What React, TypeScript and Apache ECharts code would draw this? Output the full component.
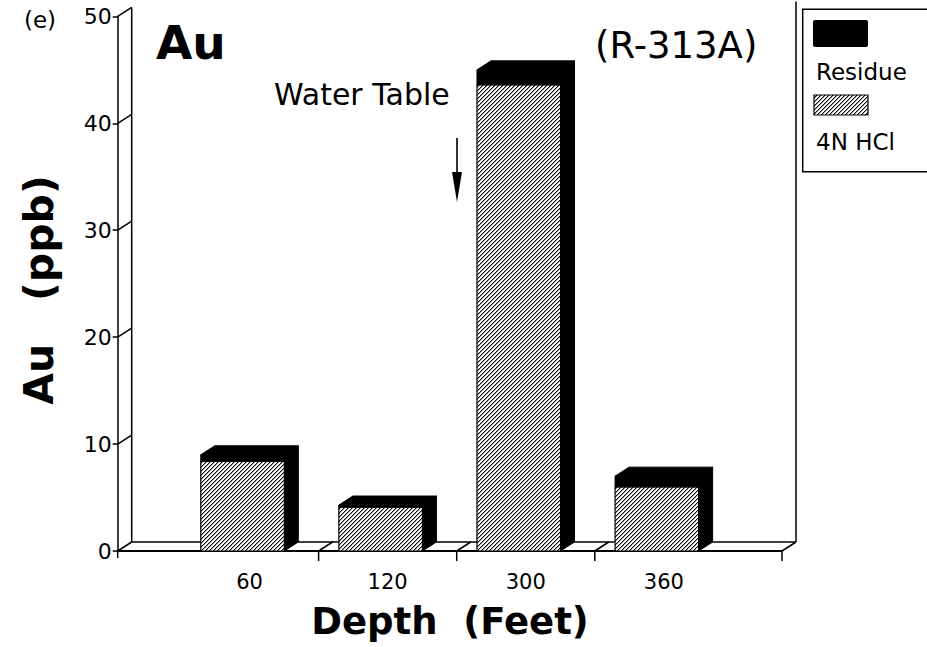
import React, { useEffect, useRef } from "react";
import * as echarts from "echarts";

const depths = ["60", "120", "300", "360"];
const hclValues = [8.4, 4.1, 43.6, 6.0];
const residueValues = [0.6, 0.2, 1.4, 1.0];
const yTicks = [0, 10, 20, 30, 40, 50];
const seriesNames = ["Residue", "4N HCl"];

const DX = 14;
const DY = -9;
const FONT = "DejaVu Sans";

function makeHatch(): any {
  const c = document.createElement("canvas");
  const n = 4;
  c.width = n;
  c.height = n;
  const ctx = c.getContext("2d")!;
  ctx.fillStyle = "#fff";
  ctx.fillRect(0, 0, n, n);
  for (let i = 0; i < n; i++) {
    ctx.fillStyle = "#000";
    ctx.fillRect(i, n - 1 - i, 1, 1);
    ctx.fillStyle = "rgba(0,0,0,0.35)";
    ctx.fillRect(i, (n - i) % n, 1, 1);
  }
  return { image: c, repeat: "repeat", imageWidth: n, imageHeight: n };
}

export default function App() {
  const ref = useRef<HTMLDivElement>(null);
  useEffect(() => {
    if (!ref.current) return;
    const chart = echarts.init(ref.current, null, { renderer: "svg" });
    const hatch = makeHatch();
    const barData = depths.map((_, i) => [i, hclValues[i], hclValues[i] + residueValues[i]]);
    const yMax = yTicks[yTicks.length - 1];
    const line = (x1: number, y1: number, x2: number, y2: number, w = 1.5) => ({
      type: "line",
      shape: { x1, y1, x2, y2 },
      style: { stroke: "#000", lineWidth: w },
    });

    const option: any = {
      animation: false,
      backgroundColor: "#fff",
      grid: [
        { left: 117.7, top: 16.4, width: 664.3, height: 534.6 },
        { left: 180.5, top: 16.4, width: 552.4, height: 534.6 },
      ],
      xAxis: [
        { gridIndex: 0, type: "value", min: 0, max: 1, show: false },
        {
          gridIndex: 1,
          type: "category",
          data: depths,
          axisLine: { show: false },
          axisTick: { show: false },
          axisLabel: { color: "#000", fontSize: 21, fontFamily: FONT, margin: 20 },
        },
      ],
      yAxis: [
        {
          gridIndex: 0,
          type: "value",
          min: 0,
          max: yMax,
          interval: 10,
          axisLine: { show: true, lineStyle: { color: "#000", width: 1.5 } },
          axisTick: { show: true, length: 5, lineStyle: { color: "#000", width: 1.5 } },
          axisLabel: { color: "#000", fontSize: 22, fontFamily: FONT, margin: 6 },
          splitLine: { show: false },
        },
        { gridIndex: 1, type: "value", min: 0, max: yMax, interval: 10, show: false },
      ],
      series: [
        {
          type: "custom",
          name: "frame",
          xAxisIndex: 0,
          yAxisIndex: 0,
          data: [[0, 0]],
          encode: { x: 0, y: 1 },
          renderItem: (params: any, api: any) => {
            const o = api.coord([0, 0]);
            const r = api.coord([1, 0]);
            const t = api.coord([0, yMax]);
            const children: any[] = [];
            yTicks.forEach((v) => {
              const p = api.coord([0, v]);
              children.push(line(p[0], p[1], p[0] + DX, p[1] + DY));
            });
            children.push(line(o[0] + DX, o[1] + DY, t[0] + DX, t[1] + DY));
            children.push(line(r[0] + DX, r[1] + DY, r[0] + DX, t[1] + DY - 6));
            children.push(line(o[0] + DX, o[1] + DY, r[0] + DX, r[1] + DY));
            children.push(line(o[0], o[1], r[0], r[1], 2));
            children.push(line(r[0], r[1], r[0] + DX, r[1] + DY));
            children.push(line(r[0], r[1], r[0], r[1] + 10));
            children.push(line(o[0], o[1], o[0], o[1] + 7));
            return { type: "group", children };
          },
          z: 1,
        },
        {
          type: "custom",
          name: "floorTicks",
          xAxisIndex: 1,
          yAxisIndex: 1,
          data: depths.slice(0, depths.length - 1).map((_, i) => [i, 0]),
          encode: { x: 0, y: 1 },
          renderItem: (params: any, api: any) => {
            const i = api.value(0);
            const p = api.coord([i, 0]);
            const band = api.size([1, 0])[0];
            const x = p[0] + band / 2;
            return {
              type: "group",
              children: [line(x, p[1], x + DX, p[1] + DY), line(x, p[1], x, p[1] + 10)],
            };
          },
          z: 2,
        },
        {
          type: "custom",
          name: seriesNames[1],
          xAxisIndex: 1,
          yAxisIndex: 1,
          data: barData,
          encode: { x: 0, y: 2 },
          renderItem: (params: any, api: any) => {
            const i = api.value(0);
            const hcl = api.value(1);
            const tot = api.value(2);
            const base = api.coord([i, 0]);
            const pH = api.coord([i, hcl]);
            const pT = api.coord([i, tot]);
            const band = api.size([1, 0])[0];
            const fw = band * 0.605;
            const xl = base[0] - (fw + DX) / 2;
            const xr = xl + fw;
            return {
              type: "group",
              children: [
                {
                  type: "polygon",
                  shape: {
                    points: [
                      [xr, base[1]],
                      [xr + DX, base[1] + DY],
                      [xr + DX, pT[1] + DY],
                      [xr, pT[1]],
                    ],
                  },
                  style: { fill: "#000", stroke: "#000", lineWidth: 1 },
                },
                {
                  type: "polygon",
                  shape: {
                    points: [
                      [xl, pT[1]],
                      [xl + DX, pT[1] + DY],
                      [xr + DX, pT[1] + DY],
                      [xr, pT[1]],
                    ],
                  },
                  style: { fill: "#000", stroke: "#000", lineWidth: 1 },
                },
                {
                  type: "rect",
                  shape: { x: xl, y: pH[1], width: fw, height: base[1] - pH[1] },
                  style: { fill: hatch, stroke: "#000", lineWidth: 1.2 },
                },
                {
                  type: "rect",
                  shape: { x: xl, y: pT[1], width: fw, height: pH[1] - pT[1] },
                  style: { fill: "#000", stroke: "#000", lineWidth: 1 },
                },
              ],
            };
          },
          z: 3,
        },
      ],
      graphic: [
        { type: "text", x: 24, y: 20, style: { text: "(e)", fontSize: 23, fontFamily: FONT, fill: "#000", textVerticalAlign: "middle" } },
        { type: "text", x: 156, y: 42, style: { text: "Au", fontSize: 47, fontWeight: "bold", fontFamily: FONT, fill: "#000", textVerticalAlign: "middle" } },
        { type: "text", x: 595, y: 45, style: { text: "(R-313A)", fontSize: 37, fontFamily: FONT, fill: "#000", textVerticalAlign: "middle" } },
        { type: "text", x: 274, y: 94, style: { text: "Water Table", fontSize: 30, fontFamily: FONT, fill: "#000", textVerticalAlign: "middle" } },
        { type: "line", shape: { x1: 457, y1: 138, x2: 457, y2: 185 }, style: { stroke: "#000", lineWidth: 1.6 } },
        { type: "polygon", shape: { points: [[452, 172], [462, 172], [457, 202]] }, style: { fill: "#000" } },
        {
          type: "text",
          x: 39,
          y: 290,
          rotation: Math.PI / 2,
          style: { text: "Au   (ppb)", fontSize: 41, fontWeight: "bold", fontFamily: FONT, fill: "#000", textAlign: "center", textVerticalAlign: "middle" },
        },
        {
          type: "text",
          x: 450,
          y: 621,
          style: { text: "Depth  (Feet)", fontSize: 37, fontWeight: "bold", fontFamily: FONT, fill: "#000", textAlign: "center", textVerticalAlign: "middle" },
        },
        { type: "rect", shape: { x: 802.7, y: 9.3, width: 130, height: 162.4 }, style: { fill: "#fff", stroke: "#000", lineWidth: 1.5 } },
        { type: "rect", shape: { x: 813, y: 20, width: 55, height: 27, r: 2 }, style: { fill: "#000" } },
        { type: "text", x: 816, y: 72, style: { text: seriesNames[0], fontSize: 23, fontFamily: FONT, fill: "#000", textVerticalAlign: "middle" } },
        { type: "rect", shape: { x: 814, y: 95, width: 54, height: 20 }, style: { fill: hatch, stroke: "#000", lineWidth: 1.2 } },
        { type: "text", x: 816, y: 142, style: { text: seriesNames[1], fontSize: 23, fontFamily: FONT, fill: "#000", textVerticalAlign: "middle" } },
      ],
    };
    chart.setOption(option);
    return () => chart.dispose();
  }, []);
  return <div ref={ref} style={{ position: "fixed", left: 0, top: 0, width: 927, height: 647 }} />;
}
